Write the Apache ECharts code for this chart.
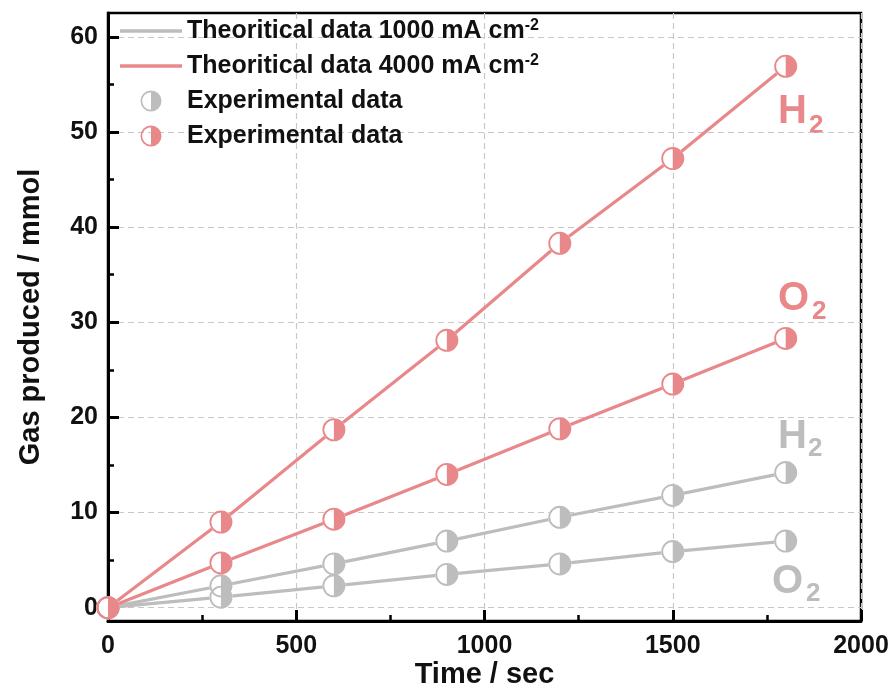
<!DOCTYPE html>
<html>
<head>
<meta charset="utf-8">
<script src="https://cdn.jsdelivr.net/npm/echarts@6/dist/echarts.min.js"></script>
<style>html,body{margin:0;padding:0;background:#fff;}#c{width:888px;height:688px;}</style>
</head>
<body>
<div id="c"></div>
<script>
// ---- data ----
const times = [0, 300, 600, 900, 1200, 1500, 1800];
const h2_4000 = [0, 9.0, 18.7, 28.1, 38.3, 47.2, 56.9];
const o2_4000 = [0, 4.7, 9.3, 14.0, 18.8, 23.5, 28.3];
const h2_1000 = [0, 2.3, 4.6, 7.0, 9.5, 11.8, 14.2];
const o2_1000 = [0, 1.1, 2.3, 3.5, 4.6, 5.9, 7.0];
const yMajor = [0, 10, 20, 30, 40, 50, 60];
const yMinor = [5, 15, 25, 35, 45, 55];
const nameLine1 = 'Theoritical data 1000 mA cm-2';
const nameLine4 = 'Theoritical data 4000 mA cm-2';
const nameExpG = 'Experimental data';
const nameExpR = 'Experimental data ';

const GRAY = '#bdbdbd';
const RED = '#e8888a';
const FONT = 'Liberation Sans, Arial, sans-serif';
const halfPath = 'path://M10,0A10,10 0 1,1 10,20A10,10 0 1,1 10,0Z M10,1.6A8.4,8.4 0 1,0 10,18.4A8.4,8.4 0 1,0 10,1.6Z M10,0A10,10 0 0,1 10,20Z';
const linePath = 'path://M0,0H60V3.5H0Z';

const pts = arr => times.map((t, i) => [t, arr[i]]);

function lineSeries(name, arr, color) {
  return { type: 'line', name: name, data: pts(arr), symbol: 'none',
    lineStyle: { color: color, width: 3.2 }, itemStyle: { color: color }, z: 2, silent: true };
}
function bgSeries(arr) {
  return { type: 'scatter', name: '_bg', data: pts(arr), symbol: 'circle', symbolSize: 23,
    itemStyle: { color: '#fff', opacity: 1 }, z: 3, silent: true };
}
function expSeries(name, arr, color) {
  return { type: 'scatter', name: name, data: pts(arr), symbol: halfPath, symbolSize: 23,
    itemStyle: { color: color, opacity: 1 }, z: 4, silent: true };
}

function chem(x, y, sx, sy, color, main, sub) {
  return [
    { type: 'text', x: x, y: y, style: { text: main, fill: color, font: 'bold 40px ' + FONT, verticalAlign: 'middle', align: 'left' } },
    { type: 'text', x: sx, y: sy, style: { text: sub, fill: color, font: 'bold 26px ' + FONT, verticalAlign: 'middle', align: 'left' } }
  ];
}

const chart = echarts.init(document.getElementById('c'), null, { renderer: 'canvas' });
chart.setOption({
  animation: false,
  backgroundColor: '#fff',
  grid: { left: 108, right: 27, top: 13, bottom: 67, outerBoundsMode: 'none', containLabel: false,
    show: true, borderColor: '#000', borderWidth: 2.5, backgroundColor: 'transparent' },
  legend: {
    show: true,
    left: 115, top: 13,
    orient: 'vertical',
    itemWidth: 62, itemHeight: 21, itemGap: 9,
    selectedMode: false,
    symbolKeepAspect: true,
    data: [
      { name: nameLine1, icon: linePath },
      { name: nameLine4, icon: linePath },
      { name: nameExpG, icon: halfPath },
      { name: nameExpR, icon: halfPath }
    ],
    formatter: function (n) {
      if (n.indexOf('Theoritical') === 0) return n.replace('cm-2', 'cm{sup|-2}');
      return 'Experimental data';
    },
    textStyle: { fontFamily: FONT, fontWeight: 'bold', fontSize: 25, color: '#111', lineHeight: 26,
      rich: { sup: { fontFamily: FONT, fontWeight: 'bold', fontSize: 16, color: '#111', verticalAlign: 'top', lineHeight: 16 } } }
  },
  xAxis: {
    type: 'value', min: 0, max: 2000, interval: 500,
    name: 'Time / sec', nameLocation: 'middle', nameGap: 54, nameMoveOverlap: false,
    nameTextStyle: { fontFamily: FONT, fontWeight: 'bold', fontSize: 29, color: '#111', verticalAlign: 'middle' },
    axisLine: { show: true, onZero: false, lineStyle: { color: '#000', width: 3 } },
    axisTick: { show: true, inside: true, length: 11, lineStyle: { color: '#000', width: 3 } },
    minorTick: { show: true, splitNumber: 2, length: 6, lineStyle: { color: '#000', width: 2.5 } },
    axisLabel: { fontFamily: FONT, fontWeight: 'bold', fontSize: 25, color: '#111', margin: 13,
      formatter: v => String(v) },
    splitLine: { show: true, lineStyle: { color: '#c8c8c8', width: 1.2, type: [6, 4] } }
  },
  yAxis: [
    {
      type: 'value', min: -1.4, max: 62.5,
      name: 'Gas produced / mmol', nameLocation: 'middle', nameGap: 63,
      nameTextStyle: { fontFamily: FONT, fontWeight: 'bold', fontSize: 29, color: '#111' },
      axisLine: { show: true, onZero: false, lineStyle: { color: '#000', width: 3 } },
      axisTick: { show: true, inside: true, length: 11, customValues: yMajor, lineStyle: { color: '#000', width: 3 } },
      axisLabel: { fontFamily: FONT, fontWeight: 'bold', fontSize: 25, color: '#111', margin: 10, customValues: yMajor,
        formatter: v => String(v) },
      splitLine: { show: true, lineStyle: { color: '#c8c8c8', width: 1.2, type: [6, 4] } }
    },
    {
      type: 'value', min: -1.4, max: 62.5, position: 'left',
      axisLine: { show: false },
      axisTick: { show: true, inside: true, length: 6, customValues: yMinor, lineStyle: { color: '#000', width: 2.5 } },
      axisLabel: { show: false },
      splitLine: { show: false }
    }
  ],
  series: [
    lineSeries(nameLine1, o2_1000, GRAY),
    lineSeries(nameLine1, h2_1000, GRAY),
    lineSeries(nameLine4, o2_4000, RED),
    lineSeries(nameLine4, h2_4000, RED),
    bgSeries(o2_1000), bgSeries(h2_1000), bgSeries(o2_4000), bgSeries(h2_4000),
    expSeries(nameExpG, o2_1000, GRAY),
    expSeries(nameExpG, h2_1000, GRAY),
    expSeries(nameExpR, o2_4000, RED),
    expSeries(nameExpR, h2_4000, RED)
  ],
  graphic: [].concat(
    chem(778, 112, 809, 126, RED, 'H', '2'),
    chem(778, 299, 812, 312, RED, 'O', '2'),
    chem(778, 437, 808, 449, GRAY, 'H', '2'),
    chem(772, 582, 806, 594, GRAY, 'O', '2')
  )
});
</script>
</body>
</html>
